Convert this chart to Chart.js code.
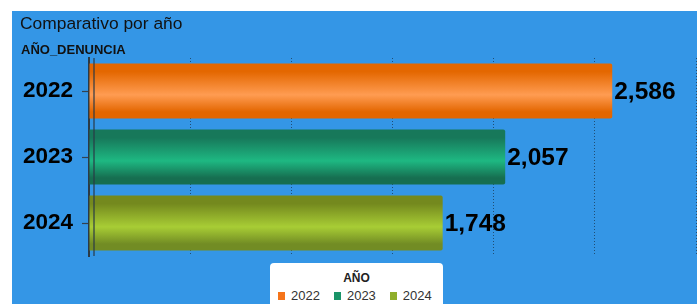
<!DOCTYPE html>
<html>
<head>
<meta charset="utf-8">
<script src="https://cdn.jsdelivr.net/npm/chart.js@4.4.1/dist/chart.umd.min.js"></script>
<style>
  html, body { margin: 0; padding: 0; background: #ffffff; width: 697px; height: 304px; overflow: hidden; font-family: "Liberation Sans", Arial, sans-serif; }
  #panel { position: absolute; left: 12px; top: 11px; width: 685px; height: 293px; background: #3496E6; overflow: hidden; }
  #chart { position: absolute; left: 0; top: 0; }
  #title { position: absolute; left: 8px; top: 2px; font-size: 17.4px; color: #111; white-space: nowrap; }
  #axisTitle { position: absolute; left: 9px; top: 31px; font-size: 13px; font-weight: bold; color: #111; white-space: nowrap; }
  #legend { position: absolute; left: 258px; top: 252px; width: 173px; height: 50px; background: #fff; border-radius: 4px; }
  #legend .lt { text-align: center; font-weight: bold; font-size: 12px; color: #222; margin-top: 8px; }
  #legend .items { display: flex; margin-left: 8px; margin-top: 3px; }
  #legend .it { display: flex; align-items: center; font-size: 13px; color: #333; margin-right: 14px; }
  #legend .sw { width: 7px; height: 8px; margin-right: 6px; }
</style>
</head>
<body>
<div id="panel">
  <canvas id="chart" width="685" height="293"></canvas>
  <div id="title">Comparativo por año</div>
  <div id="axisTitle">AÑO_DENUNCIA</div>
  <div id="legend"><div class="lt">AÑO</div><div class="items" id="items"></div></div>
</div>
<script>
const categories = ["2022", "2023", "2024"];
const values = [2586, 2057, 1748];
const valueLabels = ["2,586", "2,057", "1,748"];
const legendTitle = "AÑO";
const xTicks = [0, 500, 1000, 1500, 2000, 2500, 3000];

const gradStops = [
  ["#E46700", "#FF9C52", "#E36600"],
  ["#17785A", "#1EB882", "#166E50"],
  ["#74891E", "#A8CD35", "#728C24"]
];
const swatch = ["#F5741A", "#1A9468", "#8FAE2B"];

const items = document.getElementById('items');
categories.forEach((c, i) => {
  const d = document.createElement('div'); d.className = 'it';
  d.innerHTML = '<span class="sw" style="background:' + swatch[i] + '"></span>' + c;
  items.appendChild(d);
});

const barPct = 0.835;

function barColor(ctx) {
  const chart = ctx.chart;
  const i = ctx.dataIndex;
  const ys = chart.scales.y;
  if (!chart.chartArea || !ys || i === undefined) return swatch[i || 0];
  const cy = ys.getPixelForValue(i);
  const h = (ys.bottom - ys.top) / categories.length * barPct;
  const g = chart.ctx.createLinearGradient(0, cy - h / 2, 0, cy + h / 2);
  const s = gradStops[i];
  g.addColorStop(0, s[0]);
  g.addColorStop(0.15, s[0]);
  g.addColorStop(0.57, s[1]);
  g.addColorStop(0.88, s[2]);
  g.addColorStop(1, s[2]);
  return g;
}

const extras = {
  id: 'extras',
  afterDatasetsDraw(chart) {
    const c = chart.ctx;
    const xs = chart.scales.x;
    const ys = chart.scales.y;
    const area = chart.chartArea;
    c.save();
    c.strokeStyle = '#2b3a46';
    c.lineWidth = 1.2;
    const x0 = xs.getPixelForValue(0) + 5;
    c.beginPath(); c.moveTo(x0, area.top); c.lineTo(x0, area.bottom); c.stroke();
    // category tick marks
    c.strokeStyle = '#33424f';
    c.lineWidth = 1.2;
    const ax = xs.getPixelForValue(0);
    categories.forEach((cat, i) => {
      const y = Math.round(ys.getPixelForValue(i)) + 0.5;
      c.beginPath(); c.moveTo(ax - 7, y); c.lineTo(ax - 1, y); c.stroke();
    });
    const meta = chart.getDatasetMeta(0);
    c.fillStyle = '#000';
    c.font = 'bold 24.5px "Liberation Sans", Arial, sans-serif';
    c.textBaseline = 'middle';
    c.textAlign = 'left';
    meta.data.forEach((el, i) => {
      c.fillText(valueLabels[i], el.x + 2, el.y + 1);
    });
    c.restore();
  }
};

new Chart(document.getElementById('chart'), {
  type: 'bar',
  data: {
    labels: categories,
    datasets: [{
      data: values,
      backgroundColor: barColor,
      borderRadius: 2,
      borderSkipped: 'start',
      barPercentage: barPct,
      categoryPercentage: 1
    }]
  },
  options: {
    indexAxis: 'y',
    responsive: false,
    animation: false,
    devicePixelRatio: 1,
    layout: { padding: { top: 47, bottom: 48, left: 0, right: 1 } },
    plugins: { legend: { display: false }, tooltip: { enabled: false } },
    scales: {
      x: {
        min: 0, max: 3000,
        afterBuildTicks(scale) { scale.ticks = xTicks.map(v => ({ value: v })); },
        afterFit(scale) { scale.height = 0; },
        ticks: { display: false },
        border: { display: false, dash: [1, 2] },
        grid: { color: 'rgba(20,30,40,0.6)', lineWidth: 1, drawTicks: false },
      },
      y: {
        afterFit(scale) { scale.width = 77; },
        ticks: { color: '#000', font: { family: '"Liberation Sans", Arial, sans-serif', size: 22.5, weight: 'bold' }, padding: 10 },
        border: { display: true, color: '#2b3a46', width: 2 },
        grid: { offset: false, drawOnChartArea: false, drawTicks: true, tickLength: 6, tickColor: 'rgba(0,0,0,0)', color: 'rgba(0,0,0,0)' }
      }
    }
  },
  plugins: [extras]
});
</script>
</body>
</html>
